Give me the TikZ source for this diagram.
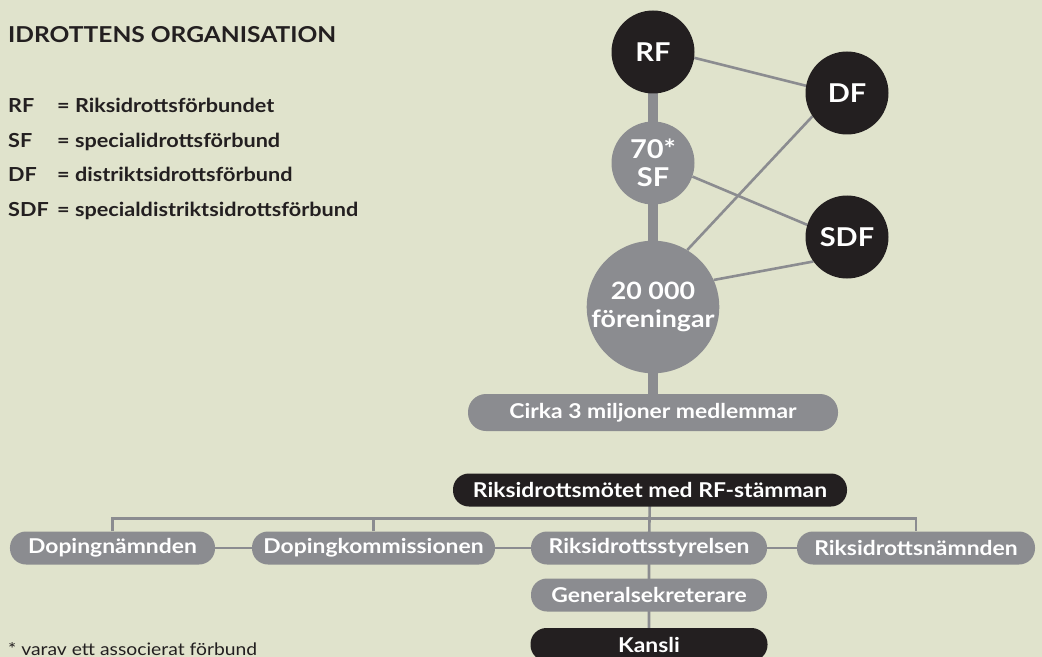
\documentclass[tikz,border=0pt]{standalone}
\usepackage{fontspec}
\setmainfont{Lato}[FakeStretch=1.12]
\definecolor{bgc}{HTML}{E0E3CC}
\definecolor{dark}{HTML}{231F20}
\definecolor{gr}{HTML}{8B8C90}
\pgfdeclarelayer{bglayer}
\pgfdeclarelayer{linelayer}
\pgfsetlayers{bglayer,linelayer,main}
\begin{document}
\begin{tikzpicture}[x=1bp,y=-1bp,
  dcirc/.style={circle, fill=dark, text=white, minimum size=83bp, inner sep=0pt,
    font=\bfseries\fontsize{26}{28}\selectfont, align=center},
  gcirc/.style={dcirc, fill=gr},
  pill/.style={rounded corners=16bp, fill=gr, text=white, minimum height=33bp, inner sep=0pt,
    font=\bfseries\fontsize{20.5}{22}\selectfont},
  dpill/.style={pill, fill=dark},
  conn/.style={draw=gr, line width=2.6bp},
  trunk/.style={draw=gr, line width=10bp},
  txt/.style={anchor=base west, inner sep=0pt, text=dark},
  legend/.style={txt, font=\bfseries\fontsize{19.4}{22}\selectfont}
]
\useasboundingbox (0,0) rectangle (1042,657);
\clip (0,0) rectangle (1042,657);
\begin{pgfonlayer}{bglayer}
\fill[bgc] (0,0) rectangle (1042,657);
\end{pgfonlayer}

% title and legend
\node[txt, font=\bfseries\fontsize{22}{24}\selectfont] (title) at (8,43) {IDROTTENS ORGANISATION};
\node[legend] (l1a) at (8,113) {RF};
\node[legend] (l1b) at (57,113) {= Riksidrottsförbundet};
\node[legend] (l2a) at (8,147.5) {SF};
\node[legend] (l2b) at (57,147.5) {= specialidrottsförbund};
\node[legend] (l3a) at (8,182) {DF};
\node[legend] (l3b) at (57,182) {= distriktsidrottsförbund};
\node[legend] (l4a) at (8,216.5) {SDF};
\node[legend] (l4b) at (57,216.5) {= specialdistriktsidrottsförbund};
\node[txt, font=\fontsize{17.3}{20}\selectfont] (foot) at (8,655) {* varav ett associerat förbund};

% circles
\node[dcirc] (RF) at (653,52) {RF};
\node[dcirc] (DF) at (847,93) {DF};
\node[gcirc] (SF) at (653,163) {70*\\SF};
\node[dcirc] (SDF) at (847,237) {SDF};
\node[gcirc, minimum size=129bp, font=\bfseries\fontsize{24}{28}\selectfont] (FO) at (653,307) {20 000\\föreningar};
\node[pill, minimum width=370bp, minimum height=37bp, rounded corners=18bp] (BAR) at (653,412.5) {Cirka 3 miljoner medlemmar};

\begin{pgfonlayer}{linelayer}
\draw[trunk] (RF.center) -- (BAR.center);
\draw[conn] (RF.-8) -- (DF.170);
\draw[conn] (DF.214) -- (FO.59);
\draw[conn] (SF.-19) -- (SDF.163);
\draw[conn] (FO.24) -- (SDF.216);
\end{pgfonlayer}

% bottom organisation
\node[dpill, minimum width=394bp] (RM) at (650,490) {Riksidrottsmötet med RF-stämman};
\node[pill, minimum width=205bp] (DN) at (112.5,548) {Dopingnämnden};
\node[pill, minimum width=243bp] (DK) at (373.5,548) {Dopingkommissionen};
\node[pill, minimum width=236bp] (RS) at (649,548) {Riksidrottsstyrelsen};
\node[pill, minimum width=238bp] (RN) at (916,548) {Riksidrottsnämnden};
\node[pill, minimum width=236bp] (GS) at (649,595) {Generalsekreterare};
\node[dpill, minimum width=237bp] (KA) at (649,644.5) {Kansli};

\begin{pgfonlayer}{linelayer}
\draw[conn] (RM.center) -- (RS.center) -- (GS.center) -- (KA.center);
\draw[conn] (DN.north) -- ++(0,-13) -| (RN.north);
\draw[conn] (DK.north) -- ++(0,-13);
\draw[conn] (DN.center) -- (DK.center) -- (RS.center) -- (RN.center);
\end{pgfonlayer}
\end{tikzpicture}
\end{document}
